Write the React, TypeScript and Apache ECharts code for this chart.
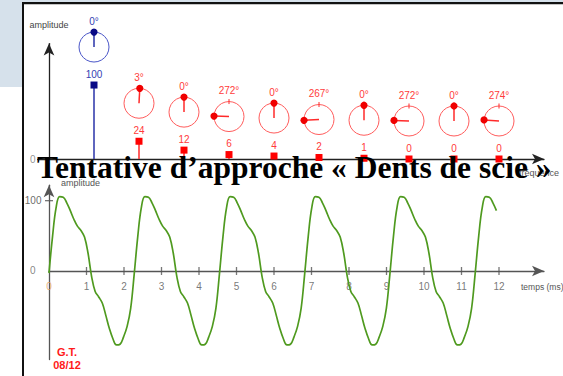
import React, { useEffect, useRef } from 'react';
import * as echarts from 'echarts';

// ---- Spectrum (top) ----
const harmonicRanks = [1, 2, 3, 4, 5, 6, 7, 8, 9, 10];
const harmonicAmplitudes = [100, 24, 12, 6, 4, 2, 1, 0, 0, 0];
const harmonicPhasesDeg = [0, 3, 0, 272, 0, 267, 0, 272, 0, 274];

// ---- Waveform (bottom) ----
const timeTickValuesMs = [1, 2, 3, 4, 5, 6, 7, 8, 9, 10, 11, 12];
const timeTickLabelsMs = [0, 1, 2, 3, 4, 5, 6, 7, 8, 9, 10, 11, 12];
const wavePeriodMs = 1000 / 440; // 440 Hz fundamental
const samplesPerPeriod = 24; // readings taken every 1/24 of a period
// amplitude values, one every 1/24 period from t = 0
const waveValues = [
  -3, 49.3, 90.1, 105.7, 105.0, 97.0, 85.8, 73.6, 63.8, 57.6, 48.2, 25.2,
  -8, -29.1, -36.9, -45.6, -63.1, -81.8, -96.3, -105.2, -104.2, -93.7, -78.8, -53.2,
  -4, 49.3, 90.1, 105.7, 105.0, 97.0, 85.8, 73.6, 63.8, 57.6, 48.2, 25.2,
  -8, -29.1, -36.9, -45.6, -63.1, -81.8, -96.3, -105.2, -104.2, -93.7, -78.8, -53.2,
  -4, 49.3, 90.1, 105.7, 105.0, 97.0, 85.8, 73.6, 63.8, 57.6, 48.2, 25.2,
  -8, -29.1, -36.9, -45.6, -63.1, -81.8, -96.3, -105.2, -104.2, -93.7, -78.8, -53.2,
  -4, 49.3, 90.1, 105.7, 105.0, 97.0, 85.8, 73.6, 63.8, 57.6, 48.2, 25.2,
  -8, -29.1, -36.9, -45.6, -63.1, -81.8, -96.3, -105.2, -104.2, -93.7, -78.8, -53.2,
  -4, 49.3, 90.1, 105.7, 105.0, 97.0, 85.8, 73.6, 63.8, 57.6, 48.2, 25.2,
  -8, -29.1, -36.9, -45.6, -63.1, -81.8, -96.3, -105.2, -104.2, -93.7, -78.8, -53.2,
  -4, 49.3, 90.1, 105.7, 105.0, 97.0, 85.8,
];

const titleText = 'Tentative d\u2019approche \u00ab\u00a0Dents de scie\u00a0\u00bb';

const SANS = '"Liberation Sans", Arial, sans-serif';

function buildOption() {
  const spectrumData = harmonicRanks.map((n, i) => [n, harmonicAmplitudes[i], harmonicPhasesDeg[i]]);
  const waveData = waveValues.map((v, i) => [(i * wavePeriodMs) / samplesPerPeriod, v]);

  const renderHarmonic = (params: any, api: any) => {
    const n = api.value(0);
    const amp = api.value(1);
    const ph = api.value(2);
    const p = api.coord([n, amp]);
    const p0 = api.coord([n, 0]);
    const x = p[0];
    const y = p[1];
    const fund = params.dataIndex === 0;
    const stemColor = fund ? '#2a33a8' : '#ff2a2a';
    const squareColor = fund ? '#0a0a86' : '#ff0000';
    const circleColor = fund ? '#4a56c8' : '#ff5c5c';
    const dotColor = fund ? '#0a0a86' : '#f00000';
    const textColor = fund ? '#3442b4' : '#ff3b3b';
    const r = 15;
    const cy = y - 38;
    const rad = (ph * Math.PI) / 180;
    const dx = x + r * Math.sin(rad);
    const dy = cy - r * Math.cos(rad);
    return {
      type: 'group',
      children: [
        { type: 'line', shape: { x1: x, y1: p0[1], x2: x, y2: y }, style: { stroke: stemColor, lineWidth: 1.5 } },
        { type: 'rect', shape: { x: x - 3.5, y: y - 3.5, width: 7, height: 7 }, style: { fill: squareColor } },
        {
          type: 'text',
          style: { text: String(amp), x, y: y - 11, align: 'center', verticalAlign: 'middle', fill: textColor, font: `10px ${SANS}`, lineHeight: 10 },
        },
        { type: 'circle', shape: { cx: x, cy, r }, style: { fill: 'none', stroke: circleColor, lineWidth: 1 } },
        { type: 'line', shape: { x1: x, y1: cy - r - 2.5, x2: x, y2: cy - r + 2.5 }, style: { stroke: stemColor, lineWidth: 1 } },
        { type: 'line', shape: { x1: x, y1: cy, x2: dx, y2: dy }, style: { stroke: stemColor, lineWidth: 1.5 } },
        { type: 'circle', shape: { cx: dx, cy: dy, r: 3.6 }, style: { fill: dotColor } },
        {
          type: 'text',
          style: { text: `${ph}\u00b0`, x, y: cy - 26, align: 'center', verticalAlign: 'middle', fill: textColor, font: `10px ${SANS}` },
        },
      ],
    };
  };

  const labelPoint = (value: number[], text: string, position: string, distance: number, color: string) => ({
    value,
    label: { show: true, position, distance, formatter: text, color, fontSize: 10, fontFamily: SANS },
  });

  return {
    animation: false,
    backgroundColor: '#ffffff',
    grid: [
      { left: 37.75, right: 19, top: 43.6, bottom: 217 },
      { left: 49, right: 19, top: 185.2, bottom: 16.4 },
    ],
    xAxis: [
      {
        type: 'value', gridIndex: 0, min: -0.25, max: 11,
        axisLine: { show: true, onZero: true, symbol: ['none', 'arrow'], symbolSize: [8, 12], lineStyle: { color: '#222', width: 1.3 } },
        axisTick: { show: false }, axisLabel: { show: false }, splitLine: { show: false },
      },
      {
        type: 'value', gridIndex: 1, min: 0, max: 13.2,
        axisLine: { show: true, onZero: true, symbol: ['none', 'arrow'], symbolSize: [8, 12], lineStyle: { color: '#555', width: 1.3 } },
        axisTick: { show: false }, axisLabel: { show: false }, splitLine: { show: false },
      },
    ],
    yAxis: [
      {
        type: 'value', gridIndex: 0, min: 0, max: 156,
        name: 'amplitude', nameLocation: 'end', nameGap: 14,
        nameTextStyle: { color: '#444', fontSize: 9, fontFamily: SANS },
        axisLine: { show: true, onZero: true, symbol: ['none', 'arrow'], symbolSize: [8, 12], lineStyle: { color: '#222', width: 1.3 } },
        axisTick: { show: false }, axisLabel: { show: false }, splitLine: { show: false },
      },
      {
        type: 'value', gridIndex: 1, min: -126, max: 122,
        axisLine: { show: true, onZero: true, symbol: ['none', 'arrow'], symbolSize: [8, 12], lineStyle: { color: '#555', width: 1.3 } },
        axisTick: { show: false }, axisLabel: { show: false }, splitLine: { show: false },
      },
    ],
    series: [
      {
        type: 'custom', name: 'spectre', xAxisIndex: 0, yAxisIndex: 0, clip: false, z: 5,
        renderItem: renderHarmonic, data: spectrumData, silent: true,
      },
      {
        type: 'scatter', xAxisIndex: 0, yAxisIndex: 0, symbolSize: 1, itemStyle: { color: 'rgba(0,0,0,0)' }, silent: true,
        data: [labelPoint([0, 0], '0', 'left', 13, '#777')],
      },
      {
        type: 'line', name: 'signal', xAxisIndex: 1, yAxisIndex: 1, data: waveData, smooth: 0.4,
        showSymbol: false, lineStyle: { color: '#4f9a1f', width: 1.7 }, z: 3, silent: true,
      },
      {
        type: 'scatter', xAxisIndex: 1, yAxisIndex: 1, symbol: 'rect', symbolSize: [1.3, 8],
        itemStyle: { color: '#555' }, silent: true,
        data: timeTickValuesMs.map((t) => [t, 0]),
      },
      {
        type: 'scatter', xAxisIndex: 1, yAxisIndex: 1, symbolSize: 1, itemStyle: { color: 'rgba(0,0,0,0)' }, silent: true,
        data: timeTickLabelsMs.map((t) => labelPoint([t, 0], String(t), 'bottom', 10, t === 0 ? '#e69a55' : '#555')),
      },
      {
        type: 'scatter', xAxisIndex: 1, yAxisIndex: 1, symbol: 'rect', symbolSize: [8, 1.3],
        itemStyle: { color: '#555' }, silent: true,
        data: [[0, 100]],
      },
      {
        type: 'scatter', xAxisIndex: 1, yAxisIndex: 1, symbolSize: 1, itemStyle: { color: 'rgba(0,0,0,0)' }, silent: true,
        data: [labelPoint([0, 100], '100', 'left', 7, '#444'), labelPoint([0, 0], '0', 'left', 13, '#666')],
      },
    ],
    graphic: [
      { type: 'rect', shape: { x: 0, y: 0, width: 22, height: 87 }, style: { fill: '#d6e1eb' }, z: 0 },
      { type: 'rect', shape: { x: 0, y: 0, width: 563, height: 2 }, style: { fill: '#d6e1eb' }, z: 0 },
      { type: 'rect', shape: { x: 22, y: 2, width: 541, height: 2.2 }, style: { fill: '#111' }, z: 50 },
      { type: 'rect', shape: { x: 22, y: 2, width: 2, height: 374 }, style: { fill: '#111' }, z: 50 },
      { type: 'text', x: 519, y: 173, style: { text: 'fr\u00e9quence', fill: '#555', font: `9px ${SANS}`, align: 'left', verticalAlign: 'middle' }, z: 10 },
      { type: 'text', x: 521, y: 287, style: { text: 'temps (ms)', fill: '#555', font: `8.5px ${SANS}`, align: 'left', verticalAlign: 'middle' }, z: 10 },
      { type: 'text', x: 61, y: 182.5, style: { text: 'amplitude', fill: '#555', font: `9px ${SANS}`, align: 'left', verticalAlign: 'middle' }, z: 10 },
      {
        type: 'text', x: 37, y: 167,
        style: {
          text: titleText, fill: '#000', font: 'bold 31.5px "Liberation Serif", "Times New Roman", serif',
          align: 'left', verticalAlign: 'middle', lineHeight: 22,
        },
        z: 100,
      },
      { type: 'text', x: 67, y: 351.5, style: { text: 'G.T.', fill: '#ff1a1a', font: `bold 11px ${SANS}`, align: 'center', verticalAlign: 'middle' }, z: 100 },
      { type: 'text', x: 67, y: 364.5, style: { text: '08/12', fill: '#ff1a1a', font: `bold 11px ${SANS}`, align: 'center', verticalAlign: 'middle' }, z: 100 },
    ],
  };
}

export default function App() {
  const ref = useRef<HTMLDivElement>(null);
  useEffect(() => {
    if (!ref.current) return;
    const chart = echarts.init(ref.current, null, { renderer: 'svg' });
    chart.setOption(buildOption() as any);
    return () => chart.dispose();
  }, []);
  return (
    <div
      ref={ref}
      style={{ position: 'fixed', left: 0, top: 0, width: 563, height: 376, background: '#ffffff' }}
    />
  );
}
